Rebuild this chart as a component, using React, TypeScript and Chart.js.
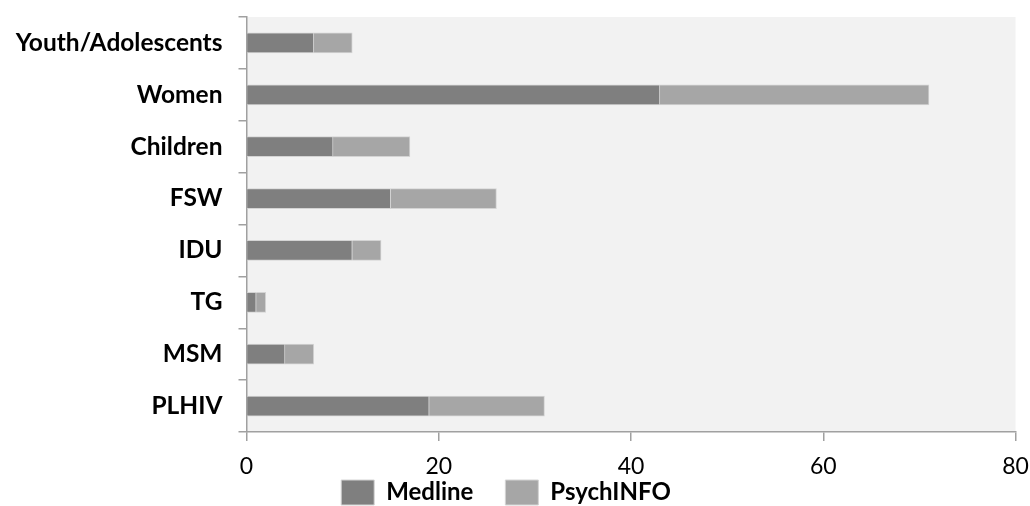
import React, { useEffect, useRef } from "react";
import { Chart, registerables } from "chart.js";

Chart.register(...registerables);

const categories = ["Youth/Adolescents", "Women", "Children", "FSW", "IDU", "TG", "MSM", "PLHIV"];
const medline = [7, 43, 9, 15, 11, 1, 4, 19];
const psychinfo = [4, 28, 8, 11, 3, 1, 3, 12];
const seriesNames = ["Medline", "PsychINFO"];
const xMin = 0;
const xMax = 80;
const xStep = 20;

const FONT = "Lato";
const AXIS = "#a0a0a0";

const plotBg = {
  id: "plotBg",
  beforeDraw(chart: any) {
    const { ctx, chartArea } = chart;
    if (!chartArea) return;
    ctx.save();
    ctx.fillStyle = "#f2f2f2";
    ctx.fillRect(chartArea.left, chartArea.top, chartArea.right - chartArea.left, chartArea.bottom - chartArea.top);
    ctx.restore();
  },
};

// let the x-axis labels extend below the compact axis box; nudge the legend
const labelRoom = {
  id: "labelRoom",
  afterLayout(chart: any) {
    const x = chart.scales.x;
    if (x) x.bottom = chart.height;
    const lg = chart.legend;
    if (lg) {
      lg.left -= 9;
      lg.right -= 9;
    }
  },
};

export default function App() {
  const ref = useRef<HTMLCanvasElement | null>(null);
  useEffect(() => {
    if (!ref.current) return;
    const chart = new Chart(ref.current, {
      type: "bar",
      data: {
        labels: categories,
        datasets: [
          {
            label: seriesNames[0],
            data: medline,
            backgroundColor: "#7f7f7f",
            borderColor: "#d4d4d4",
            borderWidth: 1,
            barThickness: 20,
          },
          {
            label: seriesNames[1],
            data: psychinfo,
            backgroundColor: "#a6a6a6",
            borderColor: "#d4d4d4",
            borderWidth: 1,
            barThickness: 20,
          },
        ],
      },
      options: {
        indexAxis: "y",
        responsive: false,
        animation: false,
        layout: { padding: { top: 17, right: 0, left: 0, bottom: 0 } },
        plugins: {
          tooltip: { enabled: false },
          legend: {
            position: "bottom",
            maxHeight: 58,
            labels: {
              boxWidth: 33,
              boxHeight: 25,
              padding: 32,
              color: "#000",
              font: { family: FONT, size: 24, weight: "bold" },
            },
          },
        },
        scales: {
          y: {
            type: "category",
            stacked: true,
            offset: true,
            grid: {
              offset: true,
              drawOnChartArea: false,
              drawTicks: true,
              tickLength: 8,
              color: AXIS,
              lineWidth: 1.5,
            },
            border: { color: AXIS, width: 1.5 },
            ticks: {
              color: "#000",
              padding: 16,
              font: { family: FONT, size: 24.5, weight: "bold" },
            },
            afterFit(scale: any) {
              scale.width = 246.5;
              scale.paddingTop = 0;
              scale.paddingBottom = 0;
            },
          },
          x: {
            type: "linear",
            stacked: true,
            min: xMin,
            max: xMax,
            grid: {
              drawOnChartArea: false,
              drawTicks: true,
              tickLength: 9,
              color: AXIS,
              lineWidth: 1.5,
            },
            border: { color: AXIS, width: 1.5 },
            ticks: {
              stepSize: xStep,
              color: "#000",
              padding: 12,
              maxRotation: 0,
              autoSkip: false,
              font: { family: FONT, size: 23 },
            },
            afterFit(scale: any) {
              scale.height = 16;
              scale.paddingLeft = 0;
              scale.paddingRight = 14.5;
            },
          },
        },
      },
      plugins: [plotBg, labelRoom],
    });
    return () => chart.destroy();
  }, []);
  return (
    <div style={{ position: "absolute", left: 0, top: 0, width: 1030, height: 506 }}>
      <canvas ref={ref} width={1030} height={506} style={{ width: 1030, height: 506 }} />
    </div>
  );
}
